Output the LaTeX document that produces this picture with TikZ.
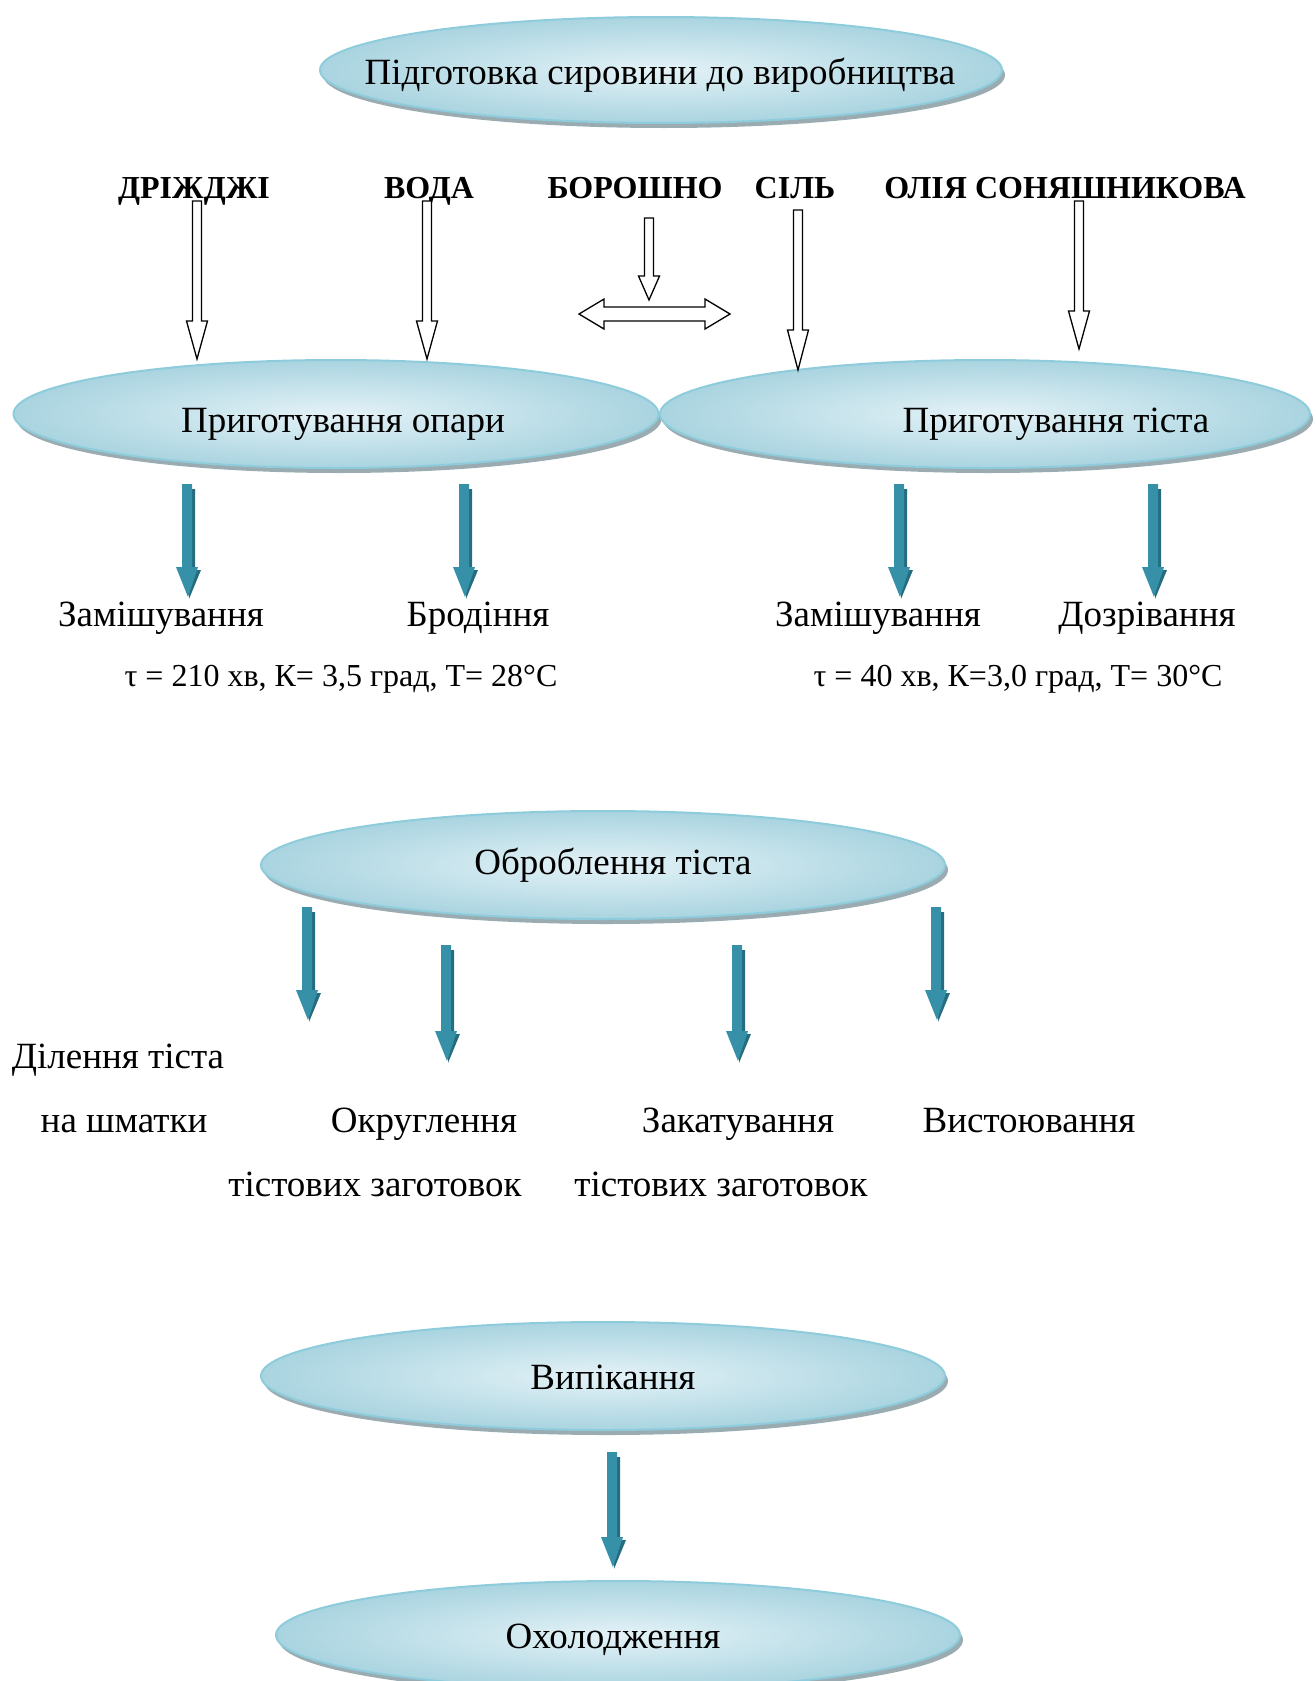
\documentclass[tikz,border=0pt]{standalone}
\usepackage{fontspec}
\setmainfont{Liberation Serif}
\usetikzlibrary{shapes.geometric,shadows,calc}
\definecolor{ellborder}{HTML}{8ECCDC}
\definecolor{ellin}{HTML}{E4F2F7}
\definecolor{ellout}{HTML}{A9D4E0}
\definecolor{ellshadow}{HTML}{8FA3A9}
\definecolor{arrmid}{HTML}{55B6D0}
\definecolor{arredge}{HTML}{3590A8}
\definecolor{arrdark}{HTML}{256C7F}
\newcommand{\hollowdown}[3]{%
  \draw[hollow] ($(#1)+(-4.5,0)$) -- ($(#1)+(4.5,0)$) -- ($(#2)+(4.5,-#3)$) -- ($(#2)+(10.5,-#3)$) -- (#2)
    -- ($(#2)+(-10.5,-#3)$) -- ($(#2)+(-4.5,-#3)$) -- cycle;}
\newcommand{\bluedown}[2]{%
  \fill[arrdark] ($(#1)+(3,5)$) -- ($(#1)+(7,5)$) -- ($(#2)+(7,-27)$) -- ($(#2)+(13,-27)$) -- ($(#2)+(1,2)$) -- cycle;
  \shade[left color=arredge, middle color=arrmid, right color=arredge] ($(#1)+(-6,0)$) -- ($(#1)+(4,0)$) -- ($(#2)+(4,-30)$) -- ($(#2)+(10,-30)$) -- (#2)
    -- ($(#2)+(-12,-30)$) -- ($(#2)+(-6,-30)$) -- cycle;}
\begin{document}
\begin{tikzpicture}[x=1pt,y=-1pt,
  oval/.style={ellipse, draw=ellborder, line width=2pt, inner color=ellin, outer color=ellout,
    drop shadow={shadow xshift=3pt, shadow yshift=-5pt, fill=ellshadow, opacity=0.9}},
  hollow/.style={draw=black, line width=1.3pt, fill=white, line join=miter},
  big/.style={font=\fontsize{37}{44}\selectfont, inner sep=0pt, text height=25pt, text depth=8pt},
  small/.style={font=\fontsize{32}{38}\selectfont, inner sep=0pt, text height=22pt, text depth=7pt},
  bold/.style={font=\fontsize{32}{38}\selectfont\bfseries, inner sep=0pt, text height=22pt, text depth=7pt}]
\useasboundingbox (0,0) rectangle (1315,1681);
% ellipses
\node[oval, minimum width=682pt, minimum height=106pt] (prep) at (661,70) {};
\node[oval, minimum width=645pt, minimum height=108pt] (opara) at (336,414) {};
\node[oval, minimum width=650pt, minimum height=108pt] (tista) at (985,414) {};
\node[oval, minimum width=684pt, minimum height=108pt] (obrob) at (603,865) {};
\node[oval, minimum width=684pt, minimum height=108pt] (vypik) at (603,1376) {};
\node[oval, minimum width=684pt, minimum height=108pt] (ohol) at (618,1635) {};
\node[big] (tprep) at (660,76) {Підготовка сировини до виробництва};
\node[big] (topara) at (343,424) {Приготування опари};
\node[big] (ttista) at (1056,424) {Приготування тіста};
\node[big] (tobrob) at (613,866) {Оброблення тіста};
\node[big] (tvypik) at (613,1381) {Випікання};
\node[big] (tohol) at (613,1640) {Охолодження};
% ingredient labels
\node[bold] (drizh) at (194,191) {ДРІЖДЖІ};
\node[bold] (voda) at (429,191) {ВОДА};
\node[bold] (borosh) at (635,191) {БОРОШНО};
\node[bold] (sil) at (795,191) {СІЛЬ};
\node[bold] (olia) at (1065,191) {ОЛІЯ СОНЯШНИКОВА};
% hollow arrows
\coordinate (a1t) at (197,201); \coordinate (a1b) at (197,359);
\coordinate (a2t) at (427,201); \coordinate (a2b) at (427,359);
\coordinate (a3t) at (649,218); \coordinate (a3b) at (649,300);
\coordinate (a4t) at (798,210); \coordinate (a4b) at (798,370);
\coordinate (a5t) at (1079,201); \coordinate (a5b) at (1079,349);
\hollowdown{a1t}{a1b}{38}
\hollowdown{a2t}{a2b}{38}
\hollowdown{a3t}{a3b}{24}
\hollowdown{a4t}{a4b}{40}
\hollowdown{a5t}{a5b}{38}
\coordinate (dL) at (579,314); \coordinate (dR) at (730,314);
\draw[hollow] (dL) -- ($(dL)+(25,-15)$) -- ($(dL)+(25,-7)$) -- ($(dR)+(-25,-7)$) -- ($(dR)+(-25,-15)$) -- (dR)
  -- ($(dR)+(-25,15)$) -- ($(dR)+(-25,7)$) -- ($(dL)+(25,7)$) -- ($(dL)+(25,15)$) -- cycle;
% blue arrows
\coordinate (b1t) at (188,484); \coordinate (b1b) at (188,597);
\coordinate (b2t) at (465,484); \coordinate (b2b) at (465,597);
\coordinate (b3t) at (900,484); \coordinate (b3b) at (900,597);
\coordinate (b4t) at (1154,484); \coordinate (b4b) at (1154,597);
\coordinate (c1t) at (308,907); \coordinate (c1b) at (308,1020);
\coordinate (c2t) at (447,945); \coordinate (c2b) at (447,1061);
\coordinate (c3t) at (738,945); \coordinate (c3b) at (738,1061);
\coordinate (c4t) at (937,907); \coordinate (c4b) at (937,1020);
\coordinate (d1t) at (613,1452); \coordinate (d1b) at (613,1567);
\bluedown{b1t}{b1b}\bluedown{b2t}{b2b}\bluedown{b3t}{b3b}\bluedown{b4t}{b4b}
\bluedown{c1t}{c1b}\bluedown{c2t}{c2b}\bluedown{c3t}{c3b}\bluedown{c4t}{c4b}
\bluedown{d1t}{d1b}
% step labels
\node[big] (zam1) at (161,618) {Замішування};
\node[big] (brod) at (478,618) {Бродіння};
\node[big] (zam2) at (878,618) {Замішування};
\node[big] (dozr) at (1147,618) {Дозрівання};
\node[small] (par1) at (341,679) {τ = 210 хв, К= 3,5 град, Т= 28°С};
\node[small] (par2) at (1018,679) {τ = 40 хв, К=3,0 град, Т= 30°С};
\node[big] (dil1) at (118,1060) {Ділення тіста};
\node[big] (dil2) at (124,1124) {на шматки};
\node[big] (okr1) at (424,1124) {Округлення};
\node[big] (okr2) at (375,1188) {тістових заготовок};
\node[big] (zak1) at (738,1124) {Закатування};
\node[big] (zak2) at (721,1188) {тістових заготовок};
\node[big] (vyst) at (1029,1124) {Вистоювання};
\end{tikzpicture}
\end{document}
